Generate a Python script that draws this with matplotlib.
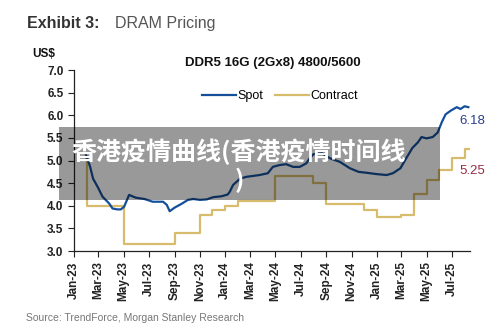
import matplotlib
matplotlib.use("Agg")
import matplotlib.pyplot as plt
import matplotlib.dates as mdates
import pandas as pd
from matplotlib.lines import Line2D
from matplotlib.patches import Rectangle

# Spot price DDR5 16G (US$)
spot_dates = [
    "2023-01-29", "2023-02-02", "2023-02-09", "2023-02-16", "2023-02-27",
    "2023-03-11", "2023-03-27", "2023-04-04", "2023-04-16", "2023-04-24",
    "2023-05-02", "2023-05-14", "2023-05-30", "2023-06-20", "2023-07-10",
    "2023-08-04", "2023-08-13", "2023-08-20", "2023-09-01", "2023-09-17",
    "2023-10-03", "2023-10-16", "2023-11-01", "2023-11-17", "2023-12-03",
    "2023-12-23", "2024-01-07", "2024-01-12", "2024-01-20", "2024-02-06",
    "2024-02-21", "2024-03-24", "2024-04-13", "2024-04-25", "2024-05-11",
    "2024-05-27", "2024-06-13", "2024-06-29", "2024-07-15", "2024-07-23",
    "2024-08-01", "2024-08-22", "2024-09-10", "2024-10-04", "2024-10-28",
    "2024-11-18", "2024-12-07", "2025-01-01", "2025-01-25", "2025-02-09",
    "2025-02-27", "2025-03-13", "2025-03-28", "2025-04-10", "2025-04-19",
    "2025-05-01", "2025-05-16", "2025-05-28", "2025-06-07", "2025-06-16",
    "2025-06-28", "2025-07-13", "2025-07-22", "2025-08-01", "2025-08-10",
]
spot_values = [
    5.15, 5.05, 4.86, 4.60, 4.42,
    4.20, 4.05, 3.94, 3.92, 3.92,
    3.98, 4.24, 4.18, 4.15, 4.09,
    4.09, 4.02, 3.88, 3.96, 4.04,
    4.13, 4.15, 4.13, 4.14, 4.19,
    4.21, 4.25, 4.31, 4.46, 4.60,
    4.64, 4.68, 4.72, 4.86, 4.90,
    4.92, 4.86, 4.86, 4.94, 5.05,
    5.14, 5.16, 5.05, 4.97, 4.83,
    4.75, 4.73, 4.70, 4.68, 4.72,
    4.83, 5.05, 5.28, 5.40, 5.52,
    5.49, 5.52, 5.62, 5.85, 6.02,
    6.10, 6.18, 6.14, 6.20, 6.18,
]

# Contract price (monthly steps)
contract_dates = [
    "2023-01-29", "2023-02-01", "2023-05-01", "2023-09-01", "2023-11-01",
    "2023-12-01", "2024-01-01", "2024-02-01", "2024-05-01", "2024-08-01",
    "2024-09-01", "2024-12-01", "2025-01-01", "2025-03-01", "2025-04-01",
    "2025-05-01", "2025-06-01", "2025-07-01", "2025-08-01", "2025-08-14",
]
contract_values = [
    5.05, 4.00, 3.15, 3.40, 3.80,
    3.90, 4.00, 4.10, 4.65, 4.50,
    4.05, 3.90, 3.76, 3.80, 4.25,
    4.58, 4.80, 5.05, 5.25, 5.25,
]

spot_x = pd.to_datetime(spot_dates)
contract_x = pd.to_datetime(contract_dates)

spot_color = "#154f9a"
contract_color = "#d6bc6c"
sans = ["Liberation Sans", "DejaVu Sans"]

fig = plt.figure(figsize=(5.0, 3.29), dpi=100)
ax = fig.add_axes([0.148, 0.237, 0.792, 0.550])

ax.plot(spot_x, spot_values, color=spot_color, lw=1.6, zorder=3)
ax.step(contract_x, contract_values, where="post", color=contract_color, lw=1.6, zorder=2)

ax.set_ylim(3.0, 7.0)
ax.set_yticks([3.0, 3.5, 4.0, 4.5, 5.0, 5.5, 6.0, 6.5, 7.0])
ax.set_xlim(pd.Timestamp("2023-01-01"), pd.Timestamp("2025-08-14"))
ax.xaxis.set_major_locator(mdates.MonthLocator(bymonth=[1, 3, 5, 7, 9, 11]))
ax.xaxis.set_major_formatter(mdates.DateFormatter("%b-%y"))

for s in ["top", "right"]:
    ax.spines[s].set_visible(False)
for s in ["left", "bottom"]:
    ax.spines[s].set_linewidth(0.9)
    ax.spines[s].set_color("#222222")

ax.tick_params(axis="both", direction="out", length=4, width=0.8, colors="#222222")
for lbl in ax.get_yticklabels():
    lbl.set_family(sans)
    lbl.set_fontsize(8.5)
    lbl.set_fontweight("bold")
for lbl in ax.get_xticklabels():
    lbl.set_family(sans)
    lbl.set_fontsize(8.5)
    lbl.set_fontweight("bold")
    lbl.set_rotation(90)

# end labels
ax.text(pd.Timestamp("2025-07-20"), 5.88, "6.18", color="#2b3f8f", fontsize=9.5,
        family=sans, va="center", ha="left")
ax.text(pd.Timestamp("2025-07-20"), 4.78, "5.25", color="#9a2b45", fontsize=9.5,
        family=sans, va="center", ha="left")

# legend
handles = [Line2D([], [], color=spot_color, lw=1.6),
           Line2D([], [], color=contract_color, lw=1.6)]
ax.legend(handles, ["Spot", "Contract"], ncol=2, frameon=False,
          loc="center", bbox_to_anchor=(0.52, 0.856), handlelength=2.7,
          handletextpad=0.1, columnspacing=1.0,
          prop={"family": sans, "size": 9})

# titles
fig.text(0.054, 0.93, "Exhibit 3:", fontsize=11.5, fontweight="bold", color="#333333",
         family=sans, va="center", ha="left")
fig.text(0.23, 0.93, "DRAM Pricing", fontsize=11.5, color="#555555", family=sans,
         va="center", ha="left")
fig.text(0.064, 0.836, "US$", fontsize=8.5, fontweight="bold", family=sans,
         color="#111111", va="center", ha="left")
fig.text(0.545, 0.81, "DDR5 16G (2Gx8) 4800/5600", fontsize=9.5, fontweight="bold",
         family=sans, color="#111111", va="center", ha="center")
fig.text(0.052, 0.033, "Source: TrendForce, Morgan Stanley Research", fontsize=7.5,
         color="#777777", family=sans, va="center", ha="left")

# watermark overlay
fig.patches.append(Rectangle((0.118, 0.392), 0.762, 0.222, transform=fig.transFigure,
                             facecolor="black", alpha=0.4, edgecolor="none", zorder=5))
fig.text(0.478, 0.495, "香港疫情曲线(香港疫情时间线\n)", fontsize=18, fontweight="bold",
         color="white", family=["Noto Sans CJK SC", "DejaVu Sans"],
         ha="center", va="center", multialignment="center", linespacing=1.12, zorder=6)

fig.savefig("out.png", dpi=100)
